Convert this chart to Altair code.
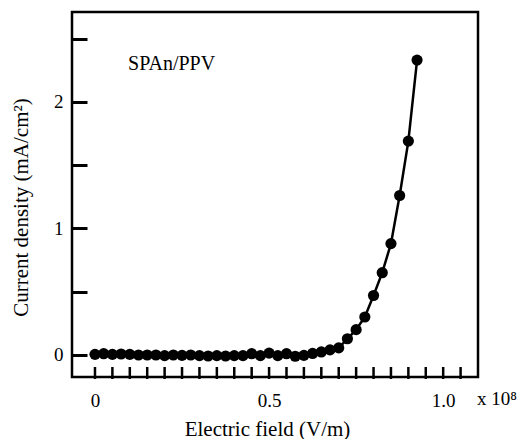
import altair as alt
import pandas as pd

# Data (electric field in units of 1e8 V/m, current density mA/cm^2)
field = [0.0, 0.025, 0.05, 0.075, 0.1, 0.125, 0.15, 0.175, 0.2, 0.225,
         0.25, 0.275, 0.3, 0.325, 0.35, 0.375, 0.4, 0.425, 0.45, 0.475,
         0.5, 0.525, 0.55, 0.575, 0.6, 0.625, 0.65, 0.675, 0.7, 0.725,
         0.75, 0.775, 0.8, 0.825, 0.85, 0.875, 0.9, 0.925]
current = [0.005, 0.01, 0.005, 0.008, 0.005, 0.0, 0.0, 0.0, -0.005, 0.0,
           -0.003, 0.0, -0.005, -0.008, -0.005, -0.008, -0.005, -0.005, 0.01, -0.005,
           0.015, -0.005, 0.01, -0.01, -0.003, 0.012, 0.024, 0.04, 0.056, 0.128,
           0.2, 0.3, 0.47, 0.65, 0.88, 1.26, 1.69, 2.33]

x_ticks = [0.0, 0.05, 0.1, 0.15, 0.2, 0.25, 0.3, 0.35, 0.4, 0.45, 0.5,
           0.55, 0.6, 0.65, 0.7, 0.75, 0.8, 0.85, 0.9, 0.95, 1.0, 1.05]
x_label_values = [0.0, 0.5, 1.0]
y_ticks = [0, 0.5, 1, 1.5, 2, 2.5]

x_title = "Electric field (V/m)"
y_title = "Current density (mA/cm\u00b2)"
sample_label = "SPAn/PPV"
x_multiplier = "x 10\u2078"

FONT = "Liberation Serif"

Y_MIN, Y_MAX = -0.174, 2.71

df = pd.DataFrame({"field": field, "current": current})
ticks_df = pd.DataFrame({"tick": x_ticks})

x_scale = alt.Scale(domain=[-0.066, 1.1], nice=False, zero=False)
y_scale = alt.Scale(domain=[Y_MIN, Y_MAX], nice=False, zero=False)

x_axis = alt.Axis(
    values=x_label_values,
    labelExpr="datum.value == 0 ? '0' : format(datum.value, '.1f')",
    ticks=False, domain=False, grid=False, labelPadding=14, labelOverlap=False,
    labelFont=FONT, labelFontSize=19, labelColor="black",
    title=x_title, titleFont=FONT, titleFontSize=21, titleFontWeight="normal",
    titleColor="black", titlePadding=8, titleX=195,
)
y_axis = alt.Axis(
    values=y_ticks,
    labelExpr="datum.value % 1 == 0 ? format(datum.value, 'd') : ''",
    ticks=True, tickSize=15, offset=-15, tickWidth=3, tickColor="black",
    domain=False, grid=False, labelPadding=9, labelOverlap=False,
    labelFont=FONT, labelFontSize=19, labelColor="black",
    title=y_title, titleFont=FONT, titleFontSize=21, titleFontWeight="normal",
    titleColor="black", titlePadding=22, titleY=195,
)

x_enc = alt.X("field:Q", scale=x_scale, axis=x_axis)
y_enc = alt.Y("current:Q", scale=y_scale, axis=y_axis)

base = alt.Chart(df).encode(x=x_enc, y=y_enc)

line = base.mark_line(color="black", strokeWidth=2.5)
points = base.mark_circle(color="black", opacity=1, size=125)

# inward x-axis tick marks along the bottom frame
xticks = alt.Chart(ticks_df).mark_tick(
    color="black", thickness=2.5, size=12, orient="vertical", opacity=1
).encode(
    x=alt.X("tick:Q", scale=x_scale),
    y=alt.value(361),
)

label = alt.Chart(pd.DataFrame({"t": [sample_label]})).mark_text(
    font=FONT, fontSize=20, align="left", baseline="alphabetic", color="black"
).encode(
    x=alt.datum(0.095, scale=x_scale),
    y=alt.datum(2.25, scale=y_scale),
    text="t:N",
)

mult = alt.Chart(pd.DataFrame({"t": [x_multiplier]})).mark_text(
    font=FONT, fontSize=19, align="left", baseline="alphabetic", color="black"
).encode(
    x=alt.value(405),
    y=alt.value(393),
    text="t:N",
)

chart = alt.layer(line, points, xticks, label, mult).properties(
    width=406,
    height=365,
    autosize=alt.AutoSizeParams(type="none"),
    padding={"left": 72, "top": 12, "right": 39, "bottom": 62},
    background="white",
).configure_view(
    stroke="black", strokeWidth=2.5
)

chart.save("out.html", embed_options={"renderer": "svg", "actions": False})
